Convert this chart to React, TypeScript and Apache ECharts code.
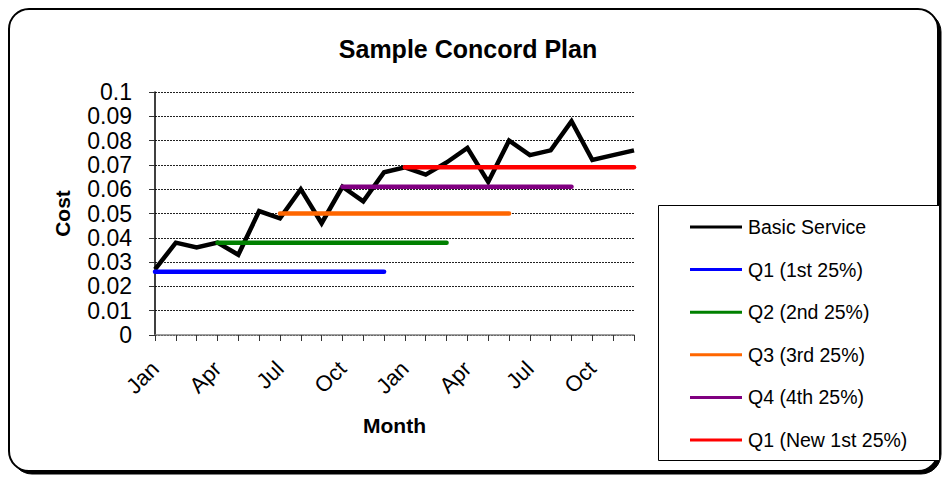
import React, { useEffect, useRef } from "react";
import * as echarts from "echarts";

const months = ["Jan","Feb","Mar","Apr","May","Jun","Jul","Aug","Sep","Oct","Nov","Dec","Jan","Feb","Mar","Apr","May","Jun","Jul","Aug","Sep","Oct","Nov","Dec"];
const basicService = [0.027,0.038,0.036,0.038,0.033,0.051,0.048,0.060,0.046,0.061,0.055,0.067,0.069,0.066,0.071,0.077,0.063,0.080,0.074,0.076,0.088,0.072,0.074,0.076];
const q1 = [0.026,0.026,0.026,0.026,0.026,0.026,0.026,0.026,0.026,0.026,0.026,0.026,null,null,null,null,null,null,null,null,null,null,null,null];
const q2 = [null,null,null,0.038,0.038,0.038,0.038,0.038,0.038,0.038,0.038,0.038,0.038,0.038,0.038,null,null,null,null,null,null,null,null,null];
const q3 = [null,null,null,null,null,null,0.050,0.050,0.050,0.050,0.050,0.050,0.050,0.050,0.050,0.050,0.050,0.050,null,null,null,null,null,null];
const q4 = [null,null,null,null,null,null,null,null,null,0.061,0.061,0.061,0.061,0.061,0.061,0.061,0.061,0.061,0.061,0.061,0.061,null,null,null];
const q1New = [null,null,null,null,null,null,null,null,null,null,null,null,0.069,0.069,0.069,0.069,0.069,0.069,0.069,0.069,0.069,0.069,0.069,0.069];
const yTicks = { min: 0, max: 0.1, interval: 0.01 };

const seriesDefs = [
  { name: "Basic Service", data: basicService, color: "#000000" },
  { name: "Q1 (1st 25%)", data: q1, color: "#0000FF" },
  { name: "Q2 (2nd 25%)", data: q2, color: "#008000" },
  { name: "Q3 (3rd 25%)", data: q3, color: "#FF6600" },
  { name: "Q4 (4th 25%)", data: q4, color: "#800080" },
  { name: "Q1 (New 1st 25%)", data: q1New, color: "#FF0000" },
];

const FONT = "'Liberation Sans', Arial, sans-serif";

export default function App() {
  const ref = useRef<HTMLDivElement>(null);
  useEffect(() => {
    if (!ref.current) return;
    const chart = echarts.init(ref.current, null, { renderer: "svg" });
    chart.setOption({
      animation: false,
      backgroundColor: "#ffffff",
      textStyle: { fontFamily: FONT },
      title: {
        text: "Sample Concord Plan",
        left: 463,
        textAlign: "center",
        top: 31,
        textStyle: { fontFamily: FONT, fontSize: 25, fontWeight: "bold", color: "#000" },
      },
      graphic: [
        {
          type: "rect",
          shape: { x: 12, y: 12, width: 929, height: 462, r: 20 },
          style: { fill: "#000", stroke: "#000", lineWidth: 1 },
          z: -10,
        },
        {
          type: "rect",
          shape: { x: 9, y: 9, width: 929, height: 462, r: 20 },
          style: { fill: "#fff", stroke: "#000", lineWidth: 2 },
          z: -9,
        },
        {
          type: "rect",
          shape: { x: 658.5, y: 205.5, width: 281, height: 255 },
          style: { fill: "#fff", stroke: "#000", lineWidth: 1 },
          z: -5,
        },
      ],
      legend: {
        orient: "vertical",
        left: 690,
        top: 216,
        padding: 0,
        itemGap: 20.6,
        itemWidth: 52,
        itemHeight: 3,
        icon: "rect",
        textStyle: { fontFamily: FONT, fontSize: 19.5, color: "#000", lineHeight: 22, padding: [0, 0, 0, 1] },
        data: seriesDefs.map((s) => ({ name: s.name, itemStyle: { color: s.color } })),
      },
      grid: { left: 155, right: 308, top: 92, bottom: 146, containLabel: false },
      xAxis: {
        type: "category",
        data: months,
        boundaryGap: false,
        name: "Month",
        nameLocation: "middle",
        nameGap: 80,
        nameTextStyle: { fontFamily: FONT, fontSize: 21, fontWeight: "bold", color: "#000" },
        axisLine: { lineStyle: { color: "#808080", width: 1.5 } },
        axisTick: { show: true, interval: 0, length: 6, lineStyle: { color: "#333" } },
        axisLabel: { interval: 2, rotate: 45, margin: 30, fontSize: 22, color: "#000", fontFamily: FONT },
        splitLine: { show: false },
      },
      yAxis: {
        type: "value",
        min: yTicks.min,
        max: yTicks.max,
        interval: yTicks.interval,
        name: "Cost",
        nameLocation: "middle",
        nameGap: 82,
        nameTextStyle: { fontFamily: FONT, fontSize: 21, fontWeight: "bold", color: "#000" },
        axisLine: { show: true, lineStyle: { color: "#000", width: 1.5 } },
        axisTick: { show: true, length: 6, lineStyle: { color: "#333" } },
        axisLabel: { margin: 23, fontSize: 23, color: "#000", fontFamily: FONT },
        splitLine: { show: true, lineStyle: { color: "#222", type: [2, 1], width: 1 } },
      },
      series: seriesDefs.map((s, i) => ({
        name: s.name,
        type: "line",
        data: s.data,
        showSymbol: false,
        symbol: "none",
        connectNulls: false,
        color: s.color,
        lineStyle: { color: s.color, width: 4.5, cap: i === 0 ? "butt" : "round", join: "miter" },
        z: i === 0 ? 2 : 3,
      })),
    });
    return () => chart.dispose();
  }, []);
  return <div ref={ref} style={{ position: "fixed", left: 0, top: 0, width: 942, height: 481 }} />;
}
